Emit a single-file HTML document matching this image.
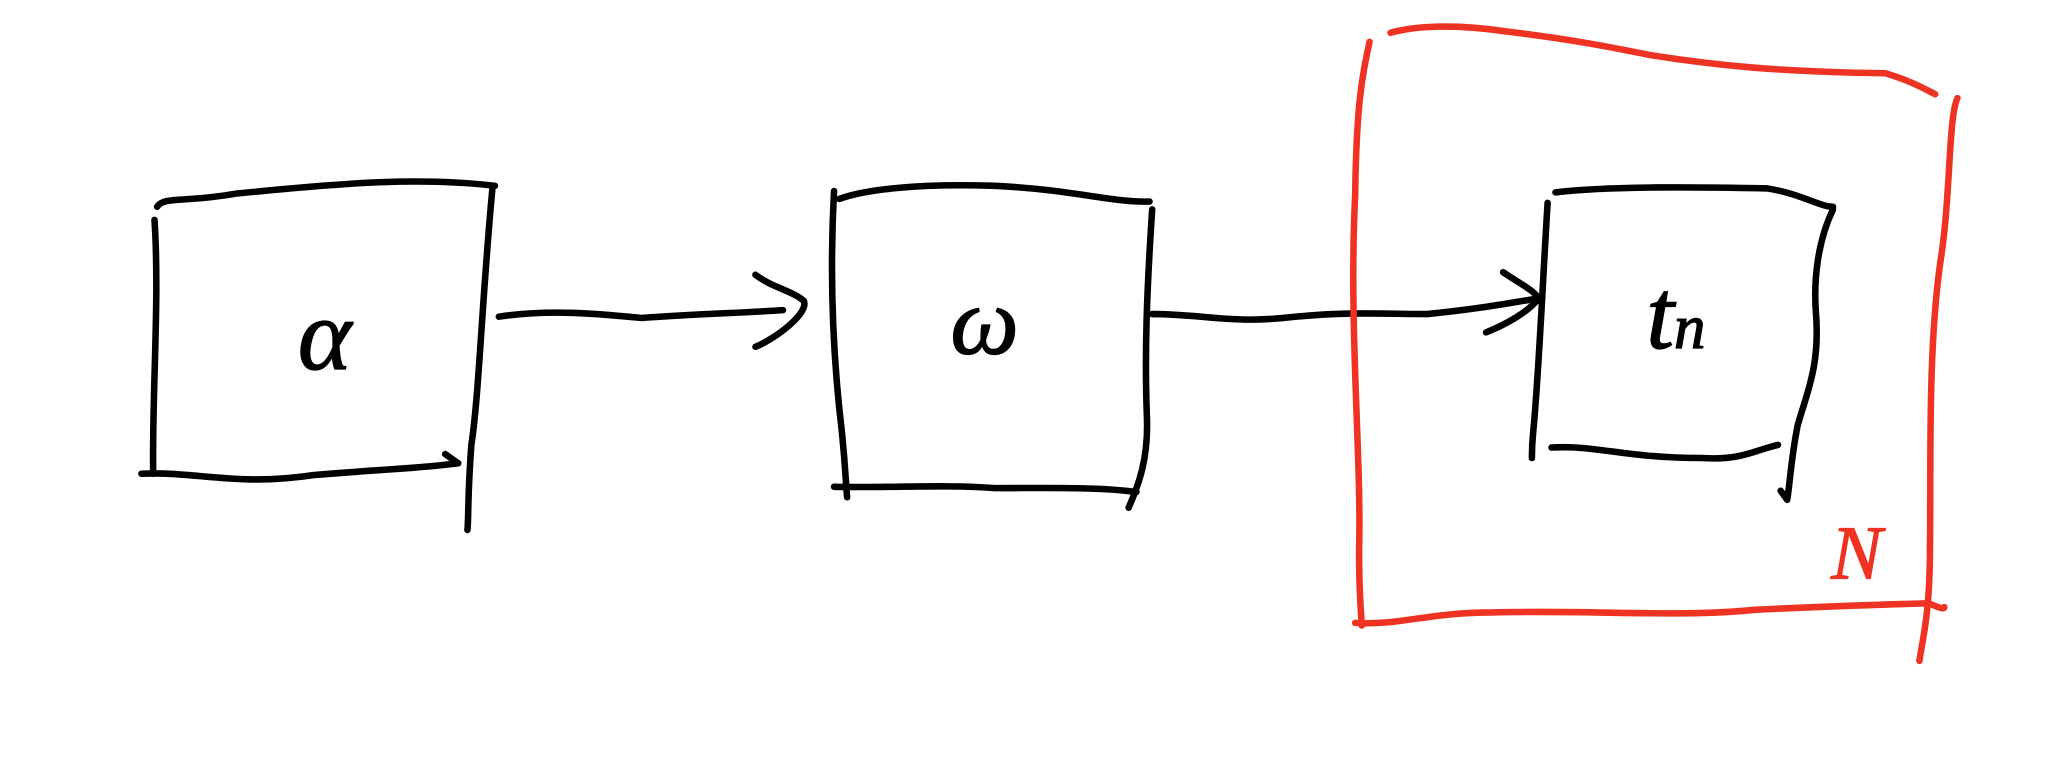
<!DOCTYPE html>
<html><head><meta charset="utf-8"><style>
html,body{margin:0;padding:0;background:#fff;}
svg{display:block;}
</style></head><body>
<svg width="2053" height="776" viewBox="0 0 1568 593" preserveAspectRatio="none" xmlns="http://www.w3.org/2000/svg">
<g fill="none" stroke="#000" stroke-width="5" stroke-linecap="round" stroke-linejoin="round">
 <g>
  <path d="M120,158 C125,150 140,155 180,148 C260,140 320,135 378,142"/>
  <path d="M118,168 C122,230 116,300 117,362"/>
  <path d="M108,362 C150,360 180,372 240,363 C300,358 320,358 350,354 M340,347 L350,354"/>
  <path d="M376,145 C368,230 366,300 360,340 C357,380 358,395 357,405"/>
 </g>
 <g>
  <path d="M381,242 C420,236 460,240 490,243 C530,240 570,239 598,237"/>
  <path d="M577,210 C590,220 605,222 614,230 C618,240 590,260 577,265"/>
 </g>
 <g>
  <path d="M641,152 C660,145 700,140 760,142 C820,145 850,155 878,154"/>
  <path d="M637,146 C633,220 637,280 643,330 C646,360 646,370 647,380"/>
  <path d="M637,372 C680,373 720,370 760,373 C800,373 840,372 868,376"/>
  <path d="M880,160 C876,220 874,270 876,320 C877,350 870,370 862,388"/>
 </g>
 <g>
  <path d="M880,240 C920,240 940,248 990,242 C1030,238 1060,240 1090,240 C1130,236 1150,232 1175,228"/>
  <path d="M1148,208 C1158,215 1172,222 1175,228 C1168,238 1150,248 1135,254"/>
 </g>
 <g>
  <path d="M1188,147 C1230,142 1300,143 1350,144 C1375,148 1390,158 1400,158"/>
  <path d="M1182,155 C1178,220 1175,290 1171,330 C1170,340 1170,345 1170,350"/>
  <path d="M1185,342 C1220,340 1240,350 1300,350 C1330,352 1340,344 1358,340"/>
  <path d="M1400,160 C1388,185 1385,215 1387,240 C1390,280 1380,300 1373,325 C1368,350 1367,370 1365,382 L1360,375"/>
 </g>
</g>
<g fill="none" stroke="#ee3322" stroke-width="5" stroke-linecap="round" stroke-linejoin="round">
 <path d="M1062,25 C1080,20 1110,18 1150,24 C1200,30 1230,36 1260,42 C1310,50 1360,55 1440,56 C1460,62 1470,68 1478,72"/>
 <path d="M1046,32 C1040,60 1036,80 1035,150 C1030,250 1040,350 1038,420 C1038,460 1040,470 1040,478"/>
 <path d="M1035,476 C1070,478 1090,468 1140,468 C1220,466 1280,472 1340,466 C1400,463 1440,462 1473,461 C1480,464 1485,466 1485,464"/>
 <path d="M1495,75 C1488,90 1490,150 1482,200 C1472,270 1475,360 1474,420 C1474,470 1468,490 1466,505"/>
</g>
<text x="248" y="282" font-family="Liberation Serif, serif" font-style="italic" font-size="78" text-anchor="middle" fill="#000" stroke="#000" stroke-width="1">α</text>
<text x="752" y="270" font-family="Liberation Serif, serif" font-style="italic" font-size="74" text-anchor="middle" fill="#000" stroke="#000" stroke-width="1">ω</text>
<text x="1280" y="266" font-family="Liberation Serif, serif" font-style="italic" font-size="76" text-anchor="middle" fill="#000" stroke="#000" stroke-width="1">t<tspan font-size="48">n</tspan></text>
<text x="1418" y="442" font-family="Liberation Serif, serif" font-style="italic" font-size="58" text-anchor="middle" fill="#ee3322" stroke="#ee3322" stroke-width="1">N</text>
</svg>
</body></html>
